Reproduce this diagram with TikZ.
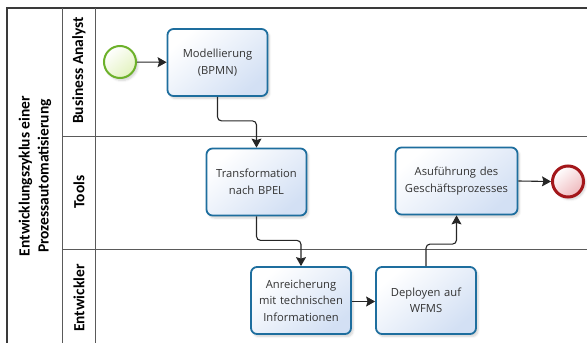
\documentclass[tikz,border=0pt]{standalone}
\usepackage{fontspec}
\setmainfont{Open Sans}
\newfontfamily\lanefont{Carlito}
\usetikzlibrary{arrows.meta,shadows.blur,calc}

\definecolor{taskborder}{HTML}{1E6E9E}
\definecolor{taskfill}{HTML}{D3E0F4}
\definecolor{startborder}{HTML}{6CB12A}
\definecolor{startfill}{HTML}{E2F2BE}
\definecolor{endborder}{HTML}{A3161A}
\definecolor{endfill}{HTML}{EFB8BC}
\definecolor{poolline}{HTML}{3A3A3A}
\definecolor{laneline}{HTML}{5A5A5A}
\definecolor{tasktext}{HTML}{333333}

\tikzset{
  task/.style={rectangle, rounded corners=6pt, draw=taskborder, line width=1.8pt,
    top color=white, bottom color=taskfill, shading angle=40,
    minimum height=67pt, text width=#1, align=center, inner sep=0pt,
    font=\fontsize{11.2}{16.5}\selectfont, text=tasktext,
    blur shadow={shadow xshift=2pt, shadow yshift=-2.5pt, shadow opacity=18, shadow blur steps=5}},
  task/.default=100pt,
  startev/.style={circle, draw=startborder, line width=2pt, minimum size=32pt, inner sep=0pt,
    top color=white, bottom color=startfill, shading angle=40,
    blur shadow={shadow xshift=2pt, shadow yshift=-2.5pt, shadow opacity=18, shadow blur steps=5}},
  endev/.style={circle, draw=endborder, line width=3pt, minimum size=31pt, inner sep=0pt,
    top color=white, bottom color=endfill, shading angle=40,
    blur shadow={shadow xshift=2pt, shadow yshift=-2.5pt, shadow opacity=18, shadow blur steps=5}},
  flow/.style={draw=black!85, line width=1.1pt, rounded corners=4pt,
    -{Stealth[length=9pt,width=10pt,inset=1.5pt]}},
  lanelabel/.style={rotate=90, font=\lanefont\bfseries\fontsize{15.5}{19}\selectfont, align=center},
}

\begin{document}
\begin{tikzpicture}[x=1pt, y=-1pt]
  \useasboundingbox (0,0) rectangle (587,343);
  \begin{scope}
    \clip (0,0) rectangle (587,343);
    % pool frame and lane grid
    \draw[poolline, line width=1.5pt] (600,8) -- (7,8) -- (7,360);
    \draw[laneline, line width=0.9pt] (62,8) -- (62,360);
    \draw[laneline, line width=0.9pt] (95.5,8) -- (95.5,360);
    \draw[laneline, line width=0.9pt] (62,136) -- (600,136);
    \draw[laneline, line width=0.9pt] (62,249) -- (600,249);
  \end{scope}

  % pool and lane titles
  \node[lanelabel] (pool) at (35,176) {Entwicklungszyklus einer\\Prozessautomatisierung};
  \node[lanelabel] (laneBA) at (79,70.5) {Business Analyst};
  \node[lanelabel] (laneTools) at (79,192) {Tools};
  \node[lanelabel] (laneDev) at (79,298) {Entwickler};

  % events and tasks
  \node[startev] (start) at (120,62) {};
  \node[task] (model) at (217.5,62.5) {Modellierung\\(BPMN)};
  \node[task] (trans) at (256.5,182) {Transformation\\nach BPEL};
  \node[task] (enrich) at (301,300.5) {Anreicherung\\mit technischen\\Informationen};
  \node[task] (deploy) at (426,300.5) {Deployen auf\\WFMS};
  \node[task=122pt] (exec) at (456.5,181) {Asuführung des\\Geschäftsprozesses};
  \node[endev] (end) at (568,181.5) {};

  % sequence flows
  \draw[flow] (start) -- (model);
  \draw[flow] (model.south) -- ++(0,24) -| (trans.north);
  \draw[flow] (trans.south) -- ++(0,24) -| (enrich.north);
  \draw[flow] (enrich.east |- 0,301.5) -- (deploy.west |- 0,301.5);
  \draw[flow] (deploy.north) -- ++(0,-22) -| (exec.south);
  \draw[flow] (exec.east) -- (end.west);
\end{tikzpicture}
\end{document}
